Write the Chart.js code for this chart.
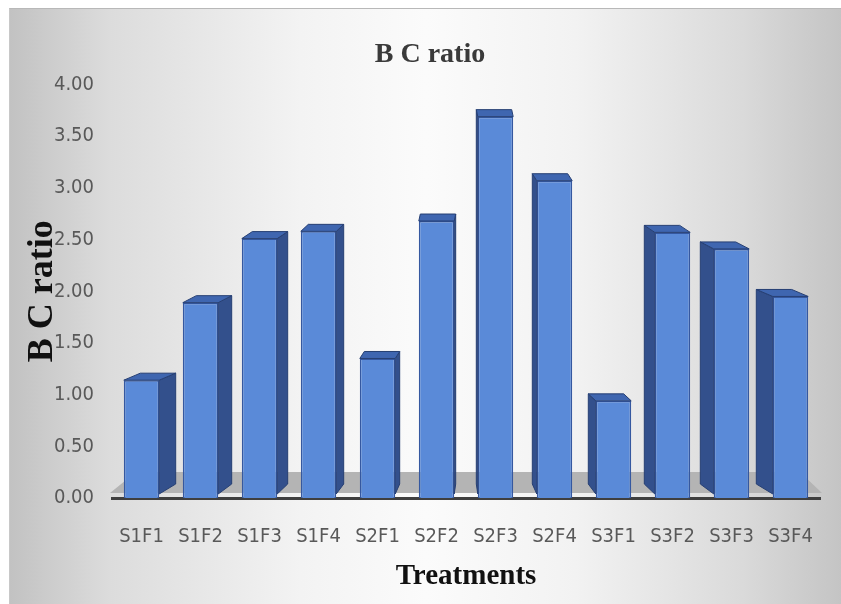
<!DOCTYPE html>
<html>
<head>
<meta charset="utf-8">
<script src="https://cdn.jsdelivr.net/npm/chart.js@4.4.1/dist/chart.umd.min.js"></script>
<style>
    html, body { margin: 0; padding: 0; background: #ffffff; }
    #frame {
        position: absolute;
        left: 9px; top: 8px; width: 832px; height: 596px;
        background: linear-gradient(90deg, #c2c2c2 0%, #dcdcdc 12%, #f3f3f3 35%, #fbfbfb 50%, #f2f2f2 68%, #dadada 88%, #c4c4c4 100%);
        border-top: 1px solid #b8b8b8;
        border-left: 1px solid #c8c8c8;
    }
    #wrap { position: absolute; left: 0; top: 0; width: 841px; height: 604px; }
</style>
</head>
<body>
<div id="frame"></div>
<div id="wrap"><canvas id="bc-ratio-chart" width="841" height="604"></canvas></div>
<script>
    // Treatments and their benefit-cost ratio
    const treatments = ['S1F1', 'S1F2', 'S1F3', 'S1F4', 'S2F1', 'S2F2', 'S2F3', 'S2F4', 'S3F1', 'S3F2', 'S3F3', 'S3F4'];
    const bcRatio = [1.14, 1.89, 2.51, 2.58, 1.35, 2.68, 3.69, 3.07, 0.94, 2.57, 2.41, 1.95];
    const yTicks = [0, 0.5, 1, 1.5, 2, 2.5, 3, 3.5, 4];

    const TICK_FONT = "'Liberation Sans Narrow', 'DejaVu Sans Condensed', 'Arial Narrow', sans-serif";
    const TITLE_FONT = "'Liberation Serif', 'Times New Roman', serif";

    // fake 3D look: floor behind the bars, then side and top faces after
    const bar3d = {
        id: 'bar3d',
        beforeDatasetsDraw(chart) {
            const { ctx, chartArea } = chart;
            const y0 = chart.scales.y.getPixelForValue(0);
            ctx.save();
            ctx.fillStyle = '#b4b4b4';
            ctx.beginPath();
            ctx.moveTo(chartArea.left - 2, y0 - 5);
            ctx.lineTo(chartArea.left + 24, y0 - 26);
            ctx.lineTo(chartArea.right - 20, y0 - 26);
            ctx.lineTo(chartArea.right + 2, y0 - 5);
            ctx.closePath();
            ctx.fill();
            ctx.restore();
        },
        afterDatasetsDraw(chart) {
            const { ctx, chartArea } = chart;
            const mid = (chartArea.left + chartArea.right) / 2;
            const half = (chartArea.right - chartArea.left) / 2;
            const meta = chart.getDatasetMeta(0);
            ctx.save();
            meta.data.forEach(bar => {
                const p = bar.getProps(['x', 'y', 'base', 'width'], true);
                const dx = (mid - p.x) / half * 18;
                const dy = 7;
                const l = p.x - p.width / 2;
                const r = p.x + p.width / 2;
                const edge = dx >= 0 ? r : l;
                // side face
                ctx.fillStyle = '#33508c';
                ctx.strokeStyle = '#263f73';
                ctx.lineWidth = 1;
                ctx.beginPath();
                ctx.moveTo(edge, p.y);
                ctx.lineTo(edge + dx, p.y - dy);
                ctx.lineTo(edge + dx, p.base - 14);
                ctx.lineTo(edge, p.base - 4);
                ctx.closePath();
                ctx.fill();
                ctx.stroke();
                // top face
                ctx.fillStyle = '#3f66b0';
                ctx.beginPath();
                ctx.moveTo(l, p.y);
                ctx.lineTo(l + dx, p.y - dy);
                ctx.lineTo(r + dx, p.y - dy);
                ctx.lineTo(r, p.y);
                ctx.closePath();
                ctx.fill();
                ctx.stroke();
            });
            ctx.restore();
        }
    };

    const chart = new Chart(document.getElementById('bc-ratio-chart'), {
        type: 'bar',
        data: {
            labels: treatments,
            datasets: [{
                label: 'B C ratio',
                data: bcRatio,
                backgroundColor: '#5a8ad8',
                borderColor: '#3558a0',
                borderWidth: 1.5,
                barPercentage: 0.6,
                categoryPercentage: 1
            }]
        },
        options: {
            responsive: false,
            animation: false,
            layout: { padding: { top: 0, right: 21, bottom: 0, left: 40 } },
            plugins: {
                legend: { display: false },
                tooltip: { enabled: false },
                title: {
                    display: true,
                    text: 'B C ratio',
                    color: '#3a3a3a',
                    font: { family: TITLE_FONT, size: 28, weight: 'bold' },
                    padding: { top: 38, bottom: 13 }
                }
            },
            scales: {
                x: {
                    grid: { display: false, drawTicks: false },
                    border: { display: true, color: '#3f3f3f', width: 3 },
                    ticks: { color: '#595959', font: { family: TICK_FONT, size: 20 }, padding: 27 },
                    title: {
                        display: true,
                        text: 'Treatments',
                        color: '#111111',
                        font: { family: TITLE_FONT, size: 29, weight: 'bold' },
                        padding: { top: 0, bottom: 10 }
                    },
                    afterFit(scale) { scale.height = 106; }
                },
                y: {
                    min: 0,
                    max: 4,
                    grid: { display: false, drawTicks: false },
                    border: { display: false },
                    afterBuildTicks(scale) { scale.ticks = yTicks.map(v => ({ value: v })); },
                    ticks: {
                        color: '#595959',
                        font: { family: TICK_FONT, size: 20 },
                        padding: 18,
                        callback: v => Number(v).toFixed(2)
                    },
                    title: {
                        display: true,
                        text: 'B C ratio',
                        color: '#111111',
                        font: { family: TITLE_FONT, size: 36, weight: 'bold', lineHeight: 0.1 },
                        padding: { top: 1, bottom: 0 }
                    },
                    afterFit(scale) { scale.width = 72; }
                }
            }
        },
        plugins: [bar3d]
    });
</script>
</body>
</html>
